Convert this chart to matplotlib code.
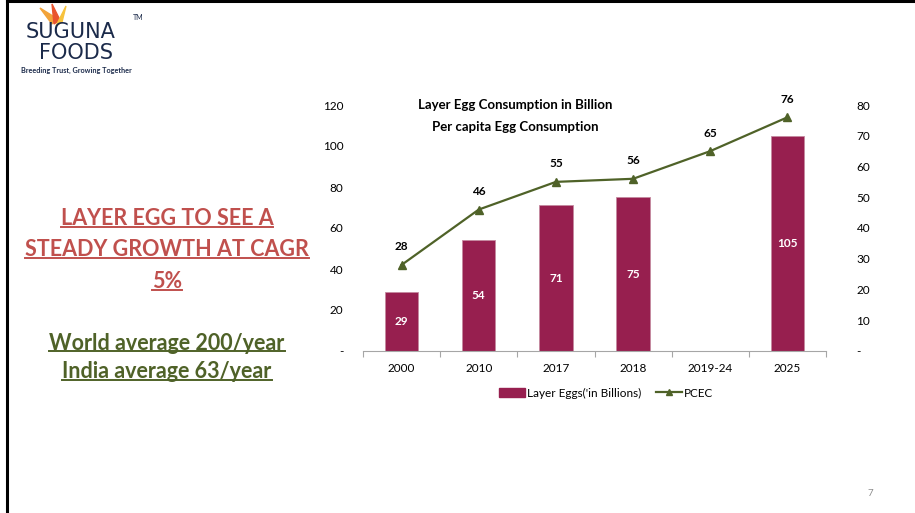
import numpy as np
import matplotlib
matplotlib.use('Agg')
import matplotlib.pyplot as plt
from matplotlib.lines import Line2D
from matplotlib.patches import Patch, Polygon

plt.rcParams['font.family'] = ['Lato', 'DejaVu Sans']

# ── Data ──────────────────────────────────────
years = ['2000', '2010', '2017', '2018', '2019-24', '2025']
layer_eggs = [29, 54, 71, 75, None, 105]   # billions
pcec = [28, 46, 55, 56, 65, 76]             # per capita egg consumption

BAR_COL = '#971F4F'
LINE_COL = '#4F6228'
RED_TXT = '#C0504D'

fig = plt.figure(figsize=(9.15, 5.13), dpi=100)

# slide border (left + top)
fig.add_artist(Line2D([6.5 / 915, 6.5 / 915], [0, 1], color='black', lw=2.2))
fig.add_artist(Line2D([6.5 / 915, 1], [1 - 1 / 513, 1 - 1 / 513], color='black', lw=2.2))

# ── Chart ─────────────────────────────────────
ax = fig.add_axes([363 / 915, 1 - 351 / 513, 463 / 915, 246 / 513])
x = np.arange(len(years))
bx = [i for i, v in zip(x, layer_eggs) if v is not None]
bv = [v for v in layer_eggs if v is not None]
ax.bar(bx, bv, width=0.43, color=BAR_COL, edgecolor='#C58AA0', linewidth=0.6, zorder=2)
for xi, v in zip(bx, bv):
    ax.text(xi, v / 2, f'{v}', ha='center', va='center', color='white',
            fontsize=8.5, fontweight='bold', zorder=4)

ax.set_xlim(-0.5, len(years) - 0.5)
ax.set_ylim(0, 120)
ax.set_yticks(range(0, 121, 20))
ax.set_yticklabels(['-'] + [str(t) for t in range(20, 121, 20)])
ax.set_xticks(x)
ax.set_xticklabels(years)
ax.set_xticks(np.arange(-0.5, len(years), 1), minor=True)
ax.tick_params(axis='x', which='major', length=0, pad=9, labelsize=8.5)
ax.tick_params(axis='x', which='minor', length=4, color='#A6A6A6', width=0.8)
ax.tick_params(axis='y', length=0, pad=14, labelsize=8.5)
for s in ['top', 'right', 'left']:
    ax.spines[s].set_visible(False)
ax.spines['bottom'].set_color('#A6A6A6')
ax.spines['bottom'].set_linewidth(0.8)

ax2 = ax.twinx()
ax2.plot(x, pcec, '-^', color=LINE_COL, lw=1.6, markersize=6, zorder=3)
for xi, v in zip(x, pcec):
    ax2.annotate(f'{v}', (xi, v), xytext=(0, 9), textcoords='offset points',
                 ha='center', va='bottom', fontsize=8.5, fontweight='bold')
ax2.set_ylim(0, 80)
ax2.set_yticks(range(0, 81, 10))
ax2.set_yticklabels(['-'] + [str(t) for t in range(10, 81, 10)])
ax2.tick_params(axis='y', length=0, pad=22, labelsize=8.5)
for s in ['top', 'right', 'left', 'bottom']:
    ax2.spines[s].set_visible(False)

fig.text(515 / 915, 1 - 105 / 513, 'Layer Egg Consumption in Billion',
         ha='center', va='center', fontsize=9.5, fontweight='bold')
fig.text(515 / 915, 1 - 127 / 513, 'Per capita Egg Consumption',
         ha='center', va='center', fontsize=9.5, fontweight='bold')

handles = [Patch(facecolor=BAR_COL, edgecolor=BAR_COL),
           Line2D([0], [0], color=LINE_COL, marker='^', lw=1.6, markersize=5)]
fig.legend(handles, ["Layer Eggs('in Billions)", 'PCEC'], loc='center',
           bbox_to_anchor=(606 / 915, 1 - 393 / 513), ncol=2, frameon=False,
           fontsize=8.5, handlelength=2.2, handletextpad=0.2, columnspacing=1.2)

# ── Left text block (underlined) ──────────────
left_lines = [('LAYER EGG TO SEE A', 219, RED_TXT),
              ('STEADY GROWTH AT CAGR', 250, RED_TXT),
              ('5%', 282, RED_TXT),
              ('World average 200/year', 343, LINE_COL),
              ('India average 63/year', 372, LINE_COL)]
txts = []
for s, y, c in left_lines:
    t = fig.text(167 / 915, 1 - y / 513, s, ha='center', va='center',
                 fontsize=15.5, fontweight='bold', color=c)
    txts.append((t, c))

# ── Logo ──────────────────────────────────────
fig.add_artist(Polygon([[52 / 915, 1 - 24 / 513], [40 / 915, 1 - 8 / 513], [56 / 915, 1 - 18 / 513]],
                       closed=True, color='#F2A33A'))
fig.add_artist(Polygon([[54 / 915, 1 - 24 / 513], [52 / 915, 1 - 4 / 513], [60 / 915, 1 - 20 / 513]],
                       closed=True, color='#E9542E'))
fig.add_artist(Polygon([[56 / 915, 1 - 26 / 513], [66 / 915, 1 - 6 / 513], [62 / 915, 1 - 22 / 513]],
                       closed=True, color='#F7C23C'))
fig.text(71 / 915, 1 - 32 / 513, 'SUGUNA', ha='center', va='center', fontsize=15,
         color='#1B2A4A', family='DejaVu Sans')
fig.text(138 / 915, 1 - 18 / 513, 'TM', ha='center', va='center', fontsize=5, color='#1B2A4A')
fig.text(76 / 915, 1 - 53 / 513, 'FOODS', ha='center', va='center', fontsize=15,
         color='#1B2A4A', family='DejaVu Sans')
fig.text(76 / 915, 1 - 70 / 513, 'Breeding Trust, Growing Together', ha='center', va='center',
         fontsize=5.2, fontweight='bold', color='#1B2A4A')

fig.text(870 / 915, 1 - 493 / 513, '7', ha='center', va='center', fontsize=7, color='#8C8C8C')

# underline the left text
fig.canvas.draw()
r = fig.canvas.get_renderer()
inv = fig.transFigure.inverted()
for t, c in txts:
    bb = t.get_window_extent(renderer=r)
    (x0, y0), (x1, y1) = inv.transform([[bb.x0, bb.y0], [bb.x1, bb.y1]])
    yl = y0 + 2.5 / 513
    fig.add_artist(Line2D([x0, x1], [yl, yl], color=c, lw=1.4))

fig.savefig('out.png', dpi=100)
